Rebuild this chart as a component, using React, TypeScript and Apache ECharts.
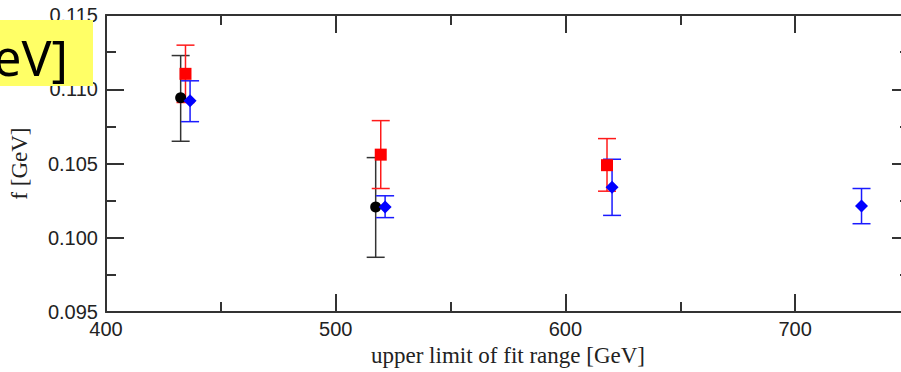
import React, { useEffect, useRef } from "react";
import * as echarts from "echarts";

// x: upper limit of fit range [GeV], y: f [GeV]
const blackX = [432.5, 517.4];
const blackY = [0.10943, 0.10207];
const blackLow = [0.1065, 0.09869];
const blackHigh = [0.11227, 0.1054];

const redX = [434.6, 519.6, 618.1];
const redY = [0.11104, 0.1056, 0.10489];
const redLow = [0.10911, 0.10332, 0.10314];
const redHigh = [0.11297, 0.10789, 0.10668];

const blueX = [436.6, 521.5, 620.3, 728.9];
const blueY = [0.10923, 0.10207, 0.10341, 0.10214];
const blueLow = [0.10782, 0.10136, 0.10151, 0.10095];
const blueHigh = [0.11057, 0.10283, 0.10529, 0.10332];

const xMin = 400;
const xMax = 750;
const yMin = 0.095;
const yMax = 0.115;

const AXIS_COLOR = "#333";
const LABEL_FONT = "'Liberation Sans', Arial, sans-serif";
const TITLE_FONT = "'Liberation Serif', 'Times New Roman', serif";

function errorSeries(xs: number[], lo: number[], hi: number[], color: string) {
  return {
    type: "custom",
    xAxisIndex: 0,
    yAxisIndex: 0,
    silent: true,
    data: xs.map((x, i) => [x, lo[i], hi[i]]),
    encode: { x: 0, y: [1, 2] },
    renderItem: (params: any, api: any) => {
      const x = api.value(0);
      const top = api.coord([x, api.value(2)]);
      const bot = api.coord([x, api.value(1)]);
      const hw = 9;
      const style = { stroke: color, lineWidth: 1.5 };
      return {
        type: "group",
        children: [
          { type: "line", shape: { x1: top[0], y1: top[1], x2: bot[0], y2: bot[1] }, style },
          { type: "line", shape: { x1: top[0] - hw, y1: top[1], x2: top[0] + hw, y2: top[1] }, style },
          { type: "line", shape: { x1: bot[0] - hw, y1: bot[1], x2: bot[0] + hw, y2: bot[1] }, style },
        ],
      };
    },
  };
}

function markerSeries(xs: number[], ys: number[], symbol: string, size: number, color: string) {
  return {
    type: "scatter",
    xAxisIndex: 0,
    yAxisIndex: 0,
    symbol,
    symbolSize: size,
    itemStyle: { color, opacity: 1 },
    data: xs.map((x, i) => [x, ys[i]]),
  };
}

function xAxisPair(position: "bottom" | "top", withLabels: boolean) {
  const major: any = {
    type: "value",
    position,
    min: xMin,
    max: xMax,
    interval: 100,
    axisLine: { show: true, onZero: false, lineStyle: { color: AXIS_COLOR, width: 2 } },
    axisTick: { show: true, inside: true, length: 18, lineStyle: { color: AXIS_COLOR, width: 2 } },
    axisLabel: withLabels
      ? {
          show: true,
          showMaxLabel: false,
          margin: 7,
          fontSize: 20,
          fontFamily: LABEL_FONT,
          color: "#222",
        }
      : { show: false },
    splitLine: { show: false },
  };
  if (withLabels) {
    major.name = "upper limit of fit range [GeV]";
    major.nameLocation = "middle";
    major.nameGap = 26;
    major.nameTextStyle = { fontSize: 23, fontFamily: TITLE_FONT, color: "#222" };
  }
  const minor = {
    type: "value",
    position,
    min: xMin,
    max: xMax,
    interval: 50,
    axisLine: { show: false, onZero: false },
    axisTick: { show: true, inside: true, length: 10, lineStyle: { color: AXIS_COLOR, width: 2 } },
    axisLabel: { show: false },
    splitLine: { show: false },
  };
  return [major, minor];
}

function yAxisDef(position: "left" | "right", withLabels: boolean) {
  const ax: any = {
    type: "value",
    position,
    min: yMin,
    max: yMax,
    interval: 0.005,
    axisLine: { show: true, onZero: false, lineStyle: { color: AXIS_COLOR, width: 2 } },
    axisTick: { show: true, inside: true, length: 18, lineStyle: { color: AXIS_COLOR, width: 2 } },
    minorTick: { show: true, splitNumber: 2, length: 10, lineStyle: { color: AXIS_COLOR, width: 2 } },
    axisLabel: withLabels
      ? {
          show: true,
          margin: 8,
          fontSize: 20,
          fontFamily: LABEL_FONT,
          color: "#222",
          formatter: (v: number) => v.toFixed(3),
        }
      : { show: false },
    splitLine: { show: false },
    minorSplitLine: { show: false },
  };
  if (withLabels) {
    ax.name = "f [GeV]";
    ax.nameLocation = "middle";
    ax.nameGap = 75;
    ax.nameTextStyle = { fontSize: 23, fontFamily: TITLE_FONT, color: "#222" };
  }
  return ax;
}

export default function App() {
  const ref = useRef<HTMLDivElement>(null);

  useEffect(() => {
    if (!ref.current) return;
    const chart = echarts.init(ref.current, undefined, { renderer: "svg" });
    chart.setOption({
      animation: false,
      backgroundColor: "#ffffff",
      grid: { left: 101, top: 15, width: 809, height: 298, containLabel: false },
      xAxis: [...xAxisPair("bottom", true), ...xAxisPair("top", false)],
      yAxis: [yAxisDef("left", true), yAxisDef("right", false)],
      series: [
        errorSeries(blackX, blackLow, blackHigh, "#333333"),
        markerSeries(blackX, blackY, "circle", 11, "#000000"),
        errorSeries(redX, redLow, redHigh, "#ff1a1a"),
        markerSeries(redX, redY, "rect", 12, "#ff0000"),
        errorSeries(blueX, blueLow, blueHigh, "#1a1aff"),
        markerSeries(blueX, blueY, "diamond", 13, "#0000ff"),
      ],
      graphic: [
        {
          type: "rect",
          z: 100,
          shape: { x: 0, y: 20, width: 93, height: 66 },
          style: { fill: "#ffff66" },
        },
        {
          type: "text",
          z: 101,
          x: 68,
          y: 57,
          style: {
            text: "eV]",
            fill: "#000000",
            fontSize: 50,
            fontFamily: "'Noto Sans', sans-serif",
            align: "right",
            verticalAlign: "middle",
          },
        },
      ],
    });
    return () => chart.dispose();
  }, []);

  return (
    <div
      style={{
        position: "fixed",
        left: 0,
        top: 0,
        width: 901,
        height: 372,
        overflow: "hidden",
        background: "#fff",
      }}
    >
      <div ref={ref} style={{ width: 940, height: 372 }} />
    </div>
  );
}
